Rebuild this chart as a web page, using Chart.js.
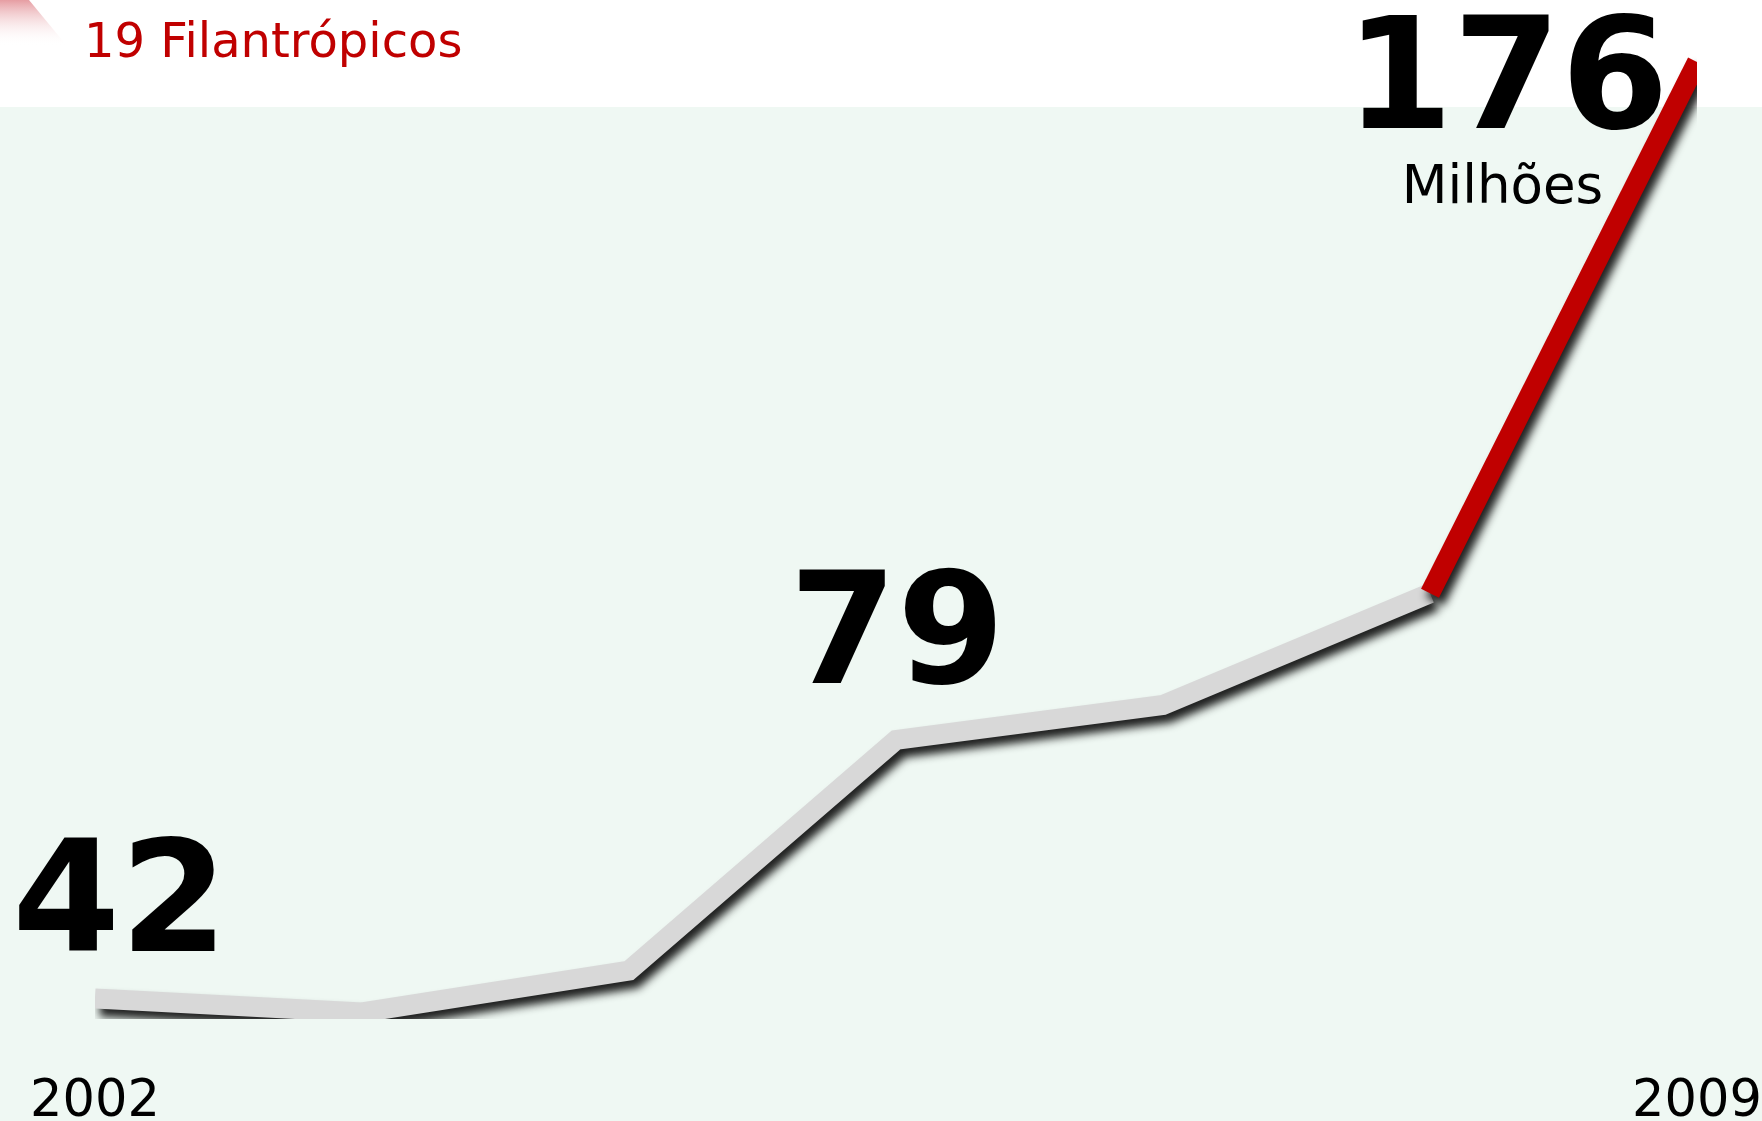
<!DOCTYPE html>
<html><head><meta charset="utf-8">
<script src="https://cdn.jsdelivr.net/npm/chart.js@4.4.1/dist/chart.umd.min.js"></script>
<style>html,body{margin:0;padding:0;background:#fff;overflow:hidden}canvas{display:block}</style>
</head><body>
<canvas id="c" width="1762" height="1121"></canvas>
<script>
const titleText = '19 Filantrópicos';
const unitText = 'Milhões';
const years = ['2002', '2003', '2004', '2005', '2006', '2007', '2009'];
const values = [42, 40, 46, 79, 84, 100, 176];
const calloutIndices = [0, 3, 6];
const yMin = 39.07, yMax = 176;

const FONT = "'DejaVu Sans', Verdana, sans-serif";
const RED = '#c00000', GRAY = '#d8d8d8', BG = '#eff8f3';

const backdrop = {
  id: 'backdrop',
  beforeDraw(chart) {
    const {ctx, width, height} = chart;
    ctx.save();
    ctx.fillStyle = '#fff'; ctx.fillRect(0, 0, width, height);
    ctx.fillStyle = BG; ctx.fillRect(0, 107, width, height - 107);
    const g = ctx.createLinearGradient(0, 0, 0, 46);
    g.addColorStop(0, 'rgba(205,60,70,0.5)');
    g.addColorStop(1, 'rgba(255,255,255,0)');
    ctx.fillStyle = g;
    ctx.beginPath(); ctx.moveTo(0, 0); ctx.lineTo(29, 0); ctx.lineTo(67, 46); ctx.lineTo(0, 46); ctx.closePath(); ctx.fill();
    ctx.fillStyle = RED; ctx.font = '48px ' + FONT; ctx.textBaseline = 'alphabetic'; ctx.textAlign = 'left';
    ctx.fillText(titleText, 84, 57);
    ctx.restore();
  }
};

const lineShadow = {
  id: 'lineShadow',
  beforeDatasetDraw(chart) {
    const ctx = chart.ctx; ctx.save();
    ctx.shadowColor = 'rgba(10,10,10,0.9)'; ctx.shadowBlur = 9; ctx.shadowOffsetX = 5; ctx.shadowOffsetY = 8;
  },
  afterDatasetDraw(chart) { chart.ctx.restore(); }
};

const callouts = {
  id: 'callouts',
  afterDatasetsDraw(chart) {
    const ctx = chart.ctx; const pts = chart.getDatasetMeta(0).data;
    const offsets = {0: [25, -47.5], 3: [1, -57], 6: [-190, 66]};
    ctx.save(); ctx.fillStyle = '#000'; ctx.textAlign = 'center'; ctx.textBaseline = 'alphabetic';
    ctx.font = 'bold 155px ' + FONT;
    calloutIndices.forEach(i => { const p = pts[i]; const o = offsets[i]; ctx.fillText(String(values[i]), p.x + o[0], p.y + o[1]); });
    const last = pts[values.length - 1];
    ctx.font = '53px ' + FONT;
    ctx.fillText(unitText, last.x - 194.5, last.y + 141);
    ctx.restore();
  }
};

new Chart(document.getElementById('c'), {
  type: 'line',
  data: { labels: years, datasets: [{
    data: values, borderColor: GRAY, borderWidth: 20, pointRadius: 0, pointHoverRadius: 0, tension: 0, fill: false,
    borderCapStyle: 'butt', borderJoinStyle: 'miter',
    clip: {left: 0, top: false, right: 0, bottom: 0},
    segment: { borderColor: c => c.p1DataIndex === values.length - 1 ? RED : undefined }
  }] },
  options: {
    responsive: false, devicePixelRatio: 1, animation: false, events: [],
    layout: { padding: { left: 95, right: 65, top: 62.1, bottom: 0 } },
    plugins: { legend: {display: false}, tooltip: {enabled: false}, title: {display: false} },
    scales: {
      x: { type: 'category', offset: false, grid: {display: false, drawTicks: false}, border: {display: false},
        afterFit: s => { s.height = 102; s.paddingLeft = 0; s.paddingRight = 0; },
        ticks: { autoSkip: false, maxRotation: 0, minRotation: 0, padding: 62, color: '#000',
          font: {family: FONT, size: 51, lineHeight: 0.843},
          callback: (v, i) => (i === 0 || i === years.length - 1) ? years[i] : '' } },
      y: { display: false, min: yMin, max: yMax }
    }
  },
  plugins: [backdrop, lineShadow, callouts]
});
</script>
</body></html>
